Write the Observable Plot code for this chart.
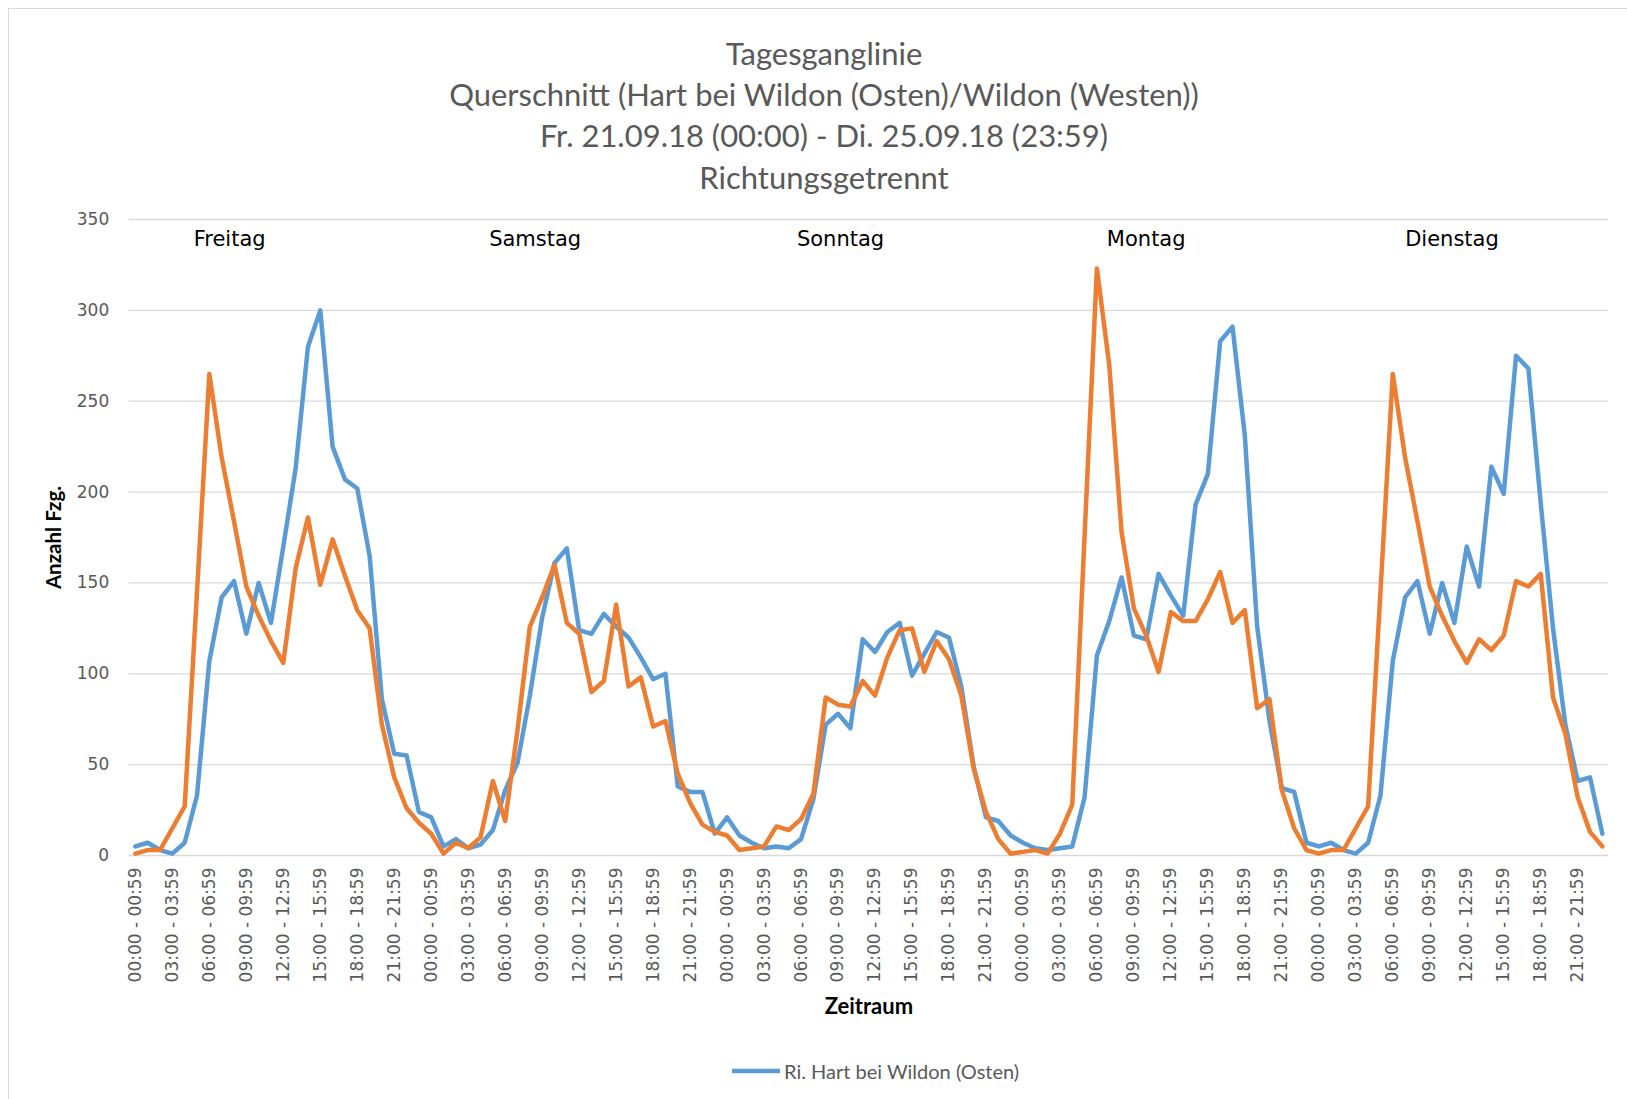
<!DOCTYPE html>
<html>
<head>
<meta charset="utf-8">
<script src="https://cdn.jsdelivr.net/npm/d3@7"></script>
<script src="https://cdn.jsdelivr.net/npm/@observablehq/plot@0.6"></script>
<style>
  html, body { margin: 0; padding: 0; background: #fff; width: 1627px; height: 1099px; overflow: hidden; }
  #frame { position: absolute; left: 8px; top: 8px; width: 1700px; height: 1200px; border: 1px solid #d9d9d9; box-sizing: border-box; }
  #title { position: absolute; left: 0; top: 33px; width: 1648px; text-align: center; font-family: Lato, sans-serif; color: #595959; font-size: 31px; line-height: 41.2px; }
  #chart { position: absolute; left: 0; top: 200px; }
  #legend { position: absolute; left: 732px; top: 1058px; height: 26px; display: flex; align-items: center; gap: 4px; font-family: Lato, sans-serif; font-size: 20px; color: #595959; }
</style>
</head>
<body>
<div id="frame"></div>
<div id="title"></div>
<div id="chart"></div>
<div id="legend"></div>
<script>
// ---- Data ----
const titleLines = [
  "Tagesganglinie",
  "Querschnitt (Hart bei Wildon (Osten)/Wildon (Westen))",
  "Fr. 21.09.18 (00:00) - Di. 25.09.18 (23:59)",
  "Richtungsgetrennt"
];
const days = ["Freitag", "Samstag", "Sonntag", "Montag", "Dienstag"];
const dayLabelHour = [7.65, 32.43, 57.2, 82.0, 106.8];
const dayLabelValue = 339;
const hourLabels = [
  "00:00 - 00:59", "01:00 - 01:59", "02:00 - 02:59", "03:00 - 03:59",
  "04:00 - 04:59", "05:00 - 05:59", "06:00 - 06:59", "07:00 - 07:59",
  "08:00 - 08:59", "09:00 - 09:59", "10:00 - 10:59", "11:00 - 11:59",
  "12:00 - 12:59", "13:00 - 13:59", "14:00 - 14:59", "15:00 - 15:59",
  "16:00 - 16:59", "17:00 - 17:59", "18:00 - 18:59", "19:00 - 19:59",
  "20:00 - 20:59", "21:00 - 21:59", "22:00 - 22:59", "23:00 - 23:59"
];
const yTicks = [0, 50, 100, 150, 200, 250, 300, 350];
const seriesNames = ["Ri. Hart bei Wildon (Osten)", "Ri. Wildon (Westen)"];
const seriesColors = ["#5b9bd5", "#ed7d31"];

// Ri. Hart bei Wildon (Osten) – hourly, Fr..Di
const osten = [
  5, 7, 3, 1, 7, 33, 107, 142, 151, 122, 150, 128, 170, 213, 280, 300, 225, 207, 202, 165, 86, 56, 55, 24,
  21, 5, 9, 4, 6, 14, 36, 51, 88, 131, 161, 169, 124, 122, 133, 126, 120, 109, 97, 100, 38, 35, 35, 12,
  21, 11, 7, 4, 5, 4, 9, 31, 72, 78, 70, 119, 112, 123, 128, 99, 111, 123, 120, 93, 49, 21, 19, 11,
  7, 4, 3, 4, 5, 32, 110, 129, 153, 121, 119, 155, 143, 132, 193, 210, 283, 291, 231, 126, 74, 37, 35, 7,
  5, 7, 3, 1, 7, 33, 107, 142, 151, 122, 150, 128, 170, 148, 214, 199, 275, 268, 194, 125, 72, 41, 43, 12
];
// Ri. Wildon (Westen)
const westen = [
  1, 3, 3, 15, 27, 145, 265, 219, 184, 148, 132, 118, 106, 158, 186, 149, 174, 154, 135, 125, 72, 43, 26, 18,
  12, 1, 7, 4, 10, 41, 19, 69, 126, 142, 160, 128, 122, 90, 96, 138, 93, 98, 71, 74, 45, 29, 17, 13,
  11, 3, 4, 5, 16, 14, 20, 34, 87, 83, 82, 96, 88, 109, 124, 125, 101, 118, 108, 88, 48, 24, 9, 1,
  2, 3, 1, 12, 28, 176, 323, 270, 178, 136, 121, 101, 134, 129, 129, 141, 156, 128, 135, 81, 86, 36, 15, 3,
  1, 3, 3, 15, 27, 145, 265, 219, 184, 148, 132, 118, 106, 119, 113, 121, 151, 148, 155, 87, 67, 32, 13, 5
];

// ---- Build ----
document.getElementById("title").innerHTML = titleLines.map(t => `<div>${t}</div>`).join("");

const nHours = days.length * hourLabels.length;
const xTicks = d3.range(0, nHours, 3);

const tickFont = "'DejaVu Sans', sans-serif";
const boldFont = "Lato, sans-serif";

const chart = Plot.plot({
  width: 1627,
  height: 840,
  marginLeft: 128.7,
  marginRight: 19,
  marginTop: 19,
  marginBottom: 185,
  style: { fontFamily: tickFont, fontSize: "17px", color: "#595959", background: "transparent", overflow: "visible" },
  x: { domain: [-0.5, nHours - 0.5] },
  y: { domain: [0, 350] },
  marks: [
    Plot.gridY(yTicks, { stroke: "#d9d9d9", strokeOpacity: 1, strokeWidth: 1.3 }),
    Plot.axisY(yTicks, { tickSize: 0, tickPadding: 20, label: null, fontSize: 17, fill: "#595959" }),
    Plot.axisX(xTicks, {
      tickSize: 0, tickPadding: 12, tickRotate: -90, label: null, fontSize: 17, fill: "#595959",
      tickFormat: i => hourLabels[i % 24]
    }),
    Plot.line(osten, { x: (d, i) => i, y: d => d, stroke: seriesColors[0], strokeWidth: 4.5, strokeLinejoin: "round", strokeLinecap: "round" }),
    Plot.line(westen, { x: (d, i) => i, y: d => d, stroke: seriesColors[1], strokeWidth: 4.5, strokeLinejoin: "round", strokeLinecap: "round" }),
    Plot.text(days, { x: (d, i) => dayLabelHour[i], y: () => dayLabelValue, text: d => d, fill: "#000", fontSize: 21, fontFamily: tickFont }),
    Plot.text(["Anzahl Fzg."], { frameAnchor: "left", textAnchor: "middle", lineAnchor: "middle", dx: -74.7, rotate: -90, fill: "#000", fontWeight: "bold", fontSize: 20.5, fontFamily: boldFont }),
    Plot.text(["Zeitraum"], { frameAnchor: "bottom", textAnchor: "middle", lineAnchor: "middle", dy: 151.5, fill: "#000", fontWeight: "bold", fontSize: 22, fontFamily: boldFont })
  ]
});
document.getElementById("chart").appendChild(chart);

document.getElementById("legend").innerHTML =
  `<svg width="48" height="6"><line x1="0" y1="3" x2="48" y2="3" stroke="${seriesColors[0]}" stroke-width="4.5"/></svg><span>${seriesNames[0]}</span>`;
</script>
</body>
</html>
